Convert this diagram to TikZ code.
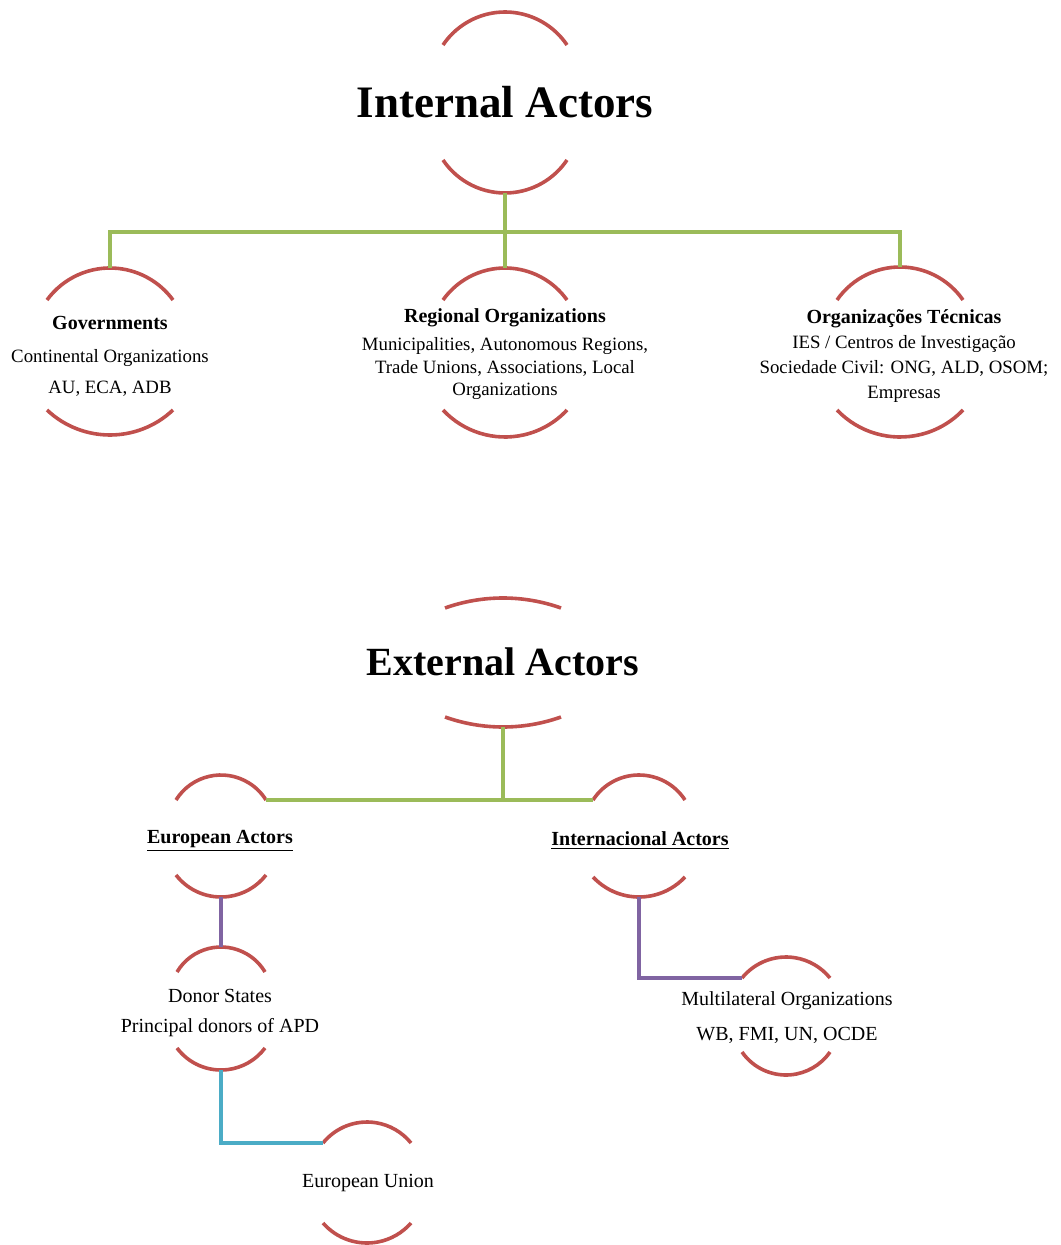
\documentclass[tikz,border=0pt]{standalone}
\usepackage{fontspec}
\setmainfont{Liberation Serif}
\definecolor{arcred}{HTML}{C0504D}
\definecolor{linkgreen}{HTML}{9BBB59}
\definecolor{linkpurple}{HTML}{8064A2}
\definecolor{linkcyan}{HTML}{4BACC6}
% two arcs of an actor: name, x, y of top ends, y of bottom ends, half width, top and bottom rise
\newcommand\actorarcs[7]{%
  \pgfmathsetmacro\actR{(#5*#5+#6*#6)/(2*#6)}%
  \pgfmathsetmacro\actA{asin(#5/\actR)}%
  \pgfmathsetmacro\actRb{(#5*#5+#7*#7)/(2*#7)}%
  \pgfmathsetmacro\actAb{asin(#5/\actRb)}%
  \draw[arcline] (#2-#5,-#3) arc[start angle=90+\actA, end angle=90-\actA, radius=\actR];
  \draw[arcline] (#2-#5,-#4) arc[start angle=270-\actAb, end angle=270+\actAb, radius=\actRb];
  \coordinate (#1-top) at (#2,-#3+#6);
  \coordinate (#1-bot) at (#2,-#4-#7);
  \coordinate (#1-tl) at (#2-#5,-#3);
  \coordinate (#1-tr) at (#2+#5,-#3);
}
\begin{document}
\begin{tikzpicture}[x=0.5pt,y=0.5pt,
  arcline/.style={draw=arcred,line width=1.8pt},
  greenline/.style={draw=linkgreen,line width=2.2pt},
  purpleline/.style={draw=linkpurple,line width=1.7pt},
  cyanline/.style={draw=linkcyan,line width=1.7pt},
  head/.style={font=\bfseries\fontsize{22.5}{27}\selectfont},
  inbox/.style={align=center,font=\fontsize{9.4}{12.5}\selectfont},
  exbox/.style={align=center,font=\fontsize{10}{15}\selectfont}]
\useasboundingbox (0,0) rectangle (1060,-1245);

% internal actors
\node[head] (int) at (505,-102) {Internal Actors};
\node[inbox,font=\fontsize{9.4}{15.5}\selectfont] (gov) at (110,-356)
  {{\bfseries\fontsize{10}{15.5}\selectfont Governments}\\[1pt]Continental Organizations\\AU, ECA, ADB};
\node[inbox,font=\fontsize{9.4}{11.25}\selectfont] (reg) at (505,-354)
  {{\bfseries\fontsize{10}{11.25}\selectfont Regional Organizations}\\[3pt]Municipalities, Autonomous Regions,\\Trade Unions, Associations, Local\\Organizations};
\node[inbox] (tec) at (904,-356)
  {{\bfseries\fontsize{10}{12.5}\selectfont Organizações Técnicas}\\IES / Centros de Investigação\\Sociedade Civil: ONG, ALD, OSOM;\\Empresas};

\actorarcs{int}{505}{45}{160}{62}{33}{33}
\actorarcs{gov}{110}{300}{410}{63}{32}{25}
\actorarcs{reg}{505}{300}{410}{62}{32}{27}
\actorarcs{tec}{900}{300}{410}{63}{33}{27}

\coordinate (ibus) at (505,-232);
\draw[greenline] (int-bot) -- (reg-top);
\draw[greenline] (ibus) -| (gov-top);
\draw[greenline] (ibus) -| (tec-top);

% external actors
\node[head,font=\bfseries\fontsize{20}{24}\selectfont] (ext) at (503,-662) {External Actors};
\node[exbox,font=\bfseries\fontsize{10}{15}\selectfont] (eura) at (220,-841) {\underline{European Actors}};
\node[exbox,font=\bfseries\fontsize{10}{15}\selectfont] (intla) at (640,-841) {\underline{Internacional Actors}};
\node[exbox] (don) at (220,-1013) {Donor States\\Principal donors of APD};
\node[exbox,font=\fontsize{10}{17.5}\selectfont] (mul) at (787,-1018) {Multilateral Organizations\\WB, FMI, UN, OCDE};
\node[exbox] (eu) at (368,-1183) {European Union};

\actorarcs{ext}{503}{608}{717}{58}{10}{10}
\actorarcs{eur}{221}{800}{875}{45}{25}{22}
\actorarcs{intl}{639}{800}{877}{46}{25}{20}
\actorarcs{don}{221}{972}{1048}{44}{25}{22}
\actorarcs{mul}{786}{978}{1052}{44}{21}{23}
\actorarcs{eu}{367}{1143}{1223}{44}{21}{20}

\draw[greenline] (ext-bot) -- (ext-bot |- eur-tr);
\draw[greenline] (eur-tr) -- (intl-tl);
\draw[purpleline] (eur-bot) -- (don-top);
\draw[purpleline] (intl-bot) |- (mul-tl);
\draw[cyanline] (don-bot) |- (eu-tl);
\end{tikzpicture}
\end{document}
